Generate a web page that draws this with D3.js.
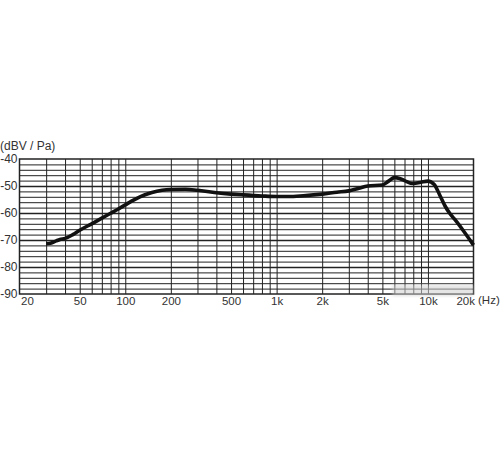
<!DOCTYPE html>
<html>
<head>
<meta charset="utf-8">
<script src="https://cdn.jsdelivr.net/npm/d3@7"></script>
<style>
  html, body { margin: 0; padding: 0; background: #fff; }
  svg { display: block; }
  text { font-family: "Liberation Sans", Arial, sans-serif; fill: #333; }
</style>
</head>
<body>
<svg id="chart" width="500" height="450"></svg>
<script>
// ---- data ----
const freqs = [30, 32, 35, 37, 40, 45, 50, 60, 70, 80, 90, 100, 110, 125, 150, 175, 200, 250, 300, 400, 500, 600, 800, 1000, 1200, 1500, 2000, 2500, 3000, 3500, 4000, 5000, 5500, 6000, 6500, 7000, 8000, 9000, 10000, 11000, 12000, 13000, 14000, 15000, 17000, 20000];
const levels = [-71.4, -71.2, -70.3, -69.8, -69.4, -68.0, -66.4, -64.0, -61.9, -60.1, -58.5, -57.0, -55.6, -54.0, -52.4, -51.6, -51.3, -51.2, -51.6, -52.5, -53.0, -53.3, -53.7, -53.9, -53.9, -53.6, -53.0, -52.3, -51.8, -50.8, -50.0, -49.6, -48.2, -46.9, -47.2, -48.0, -49.1, -48.6, -48.2, -49.4, -53.5, -57.5, -60.3, -62.3, -66.3, -71.9];
const xTickValues = [20, 50, 100, 200, 500, 1000, 2000, 5000, 10000, 20000];
const xTickLabels = ["20", "50", "100", "200", "500", "1k", "2k", "5k", "10k", "20k"];
const xGridValues = [30, 40, 50, 60, 70, 80, 90, 100, 200, 300, 400, 500, 600, 700, 800, 900, 1000, 2000, 3000, 4000, 5000, 6000, 7000, 8000, 9000, 10000];
const yTickValues = [-90, -80, -70, -60, -50, -40];
const yGridValues = d3.range(-88, -40, 2);
const yTitle = "(dBV / Pa)";
const xUnit = "(Hz)";

// ---- layout ----
const pLeft = 19.5, pRight = 473.5, pTop = 159, pBottom = 294;
const svg = d3.select("#chart");
const x = d3.scaleLog().domain([20, 20000]).range([pLeft, pRight]);
const y = d3.scaleLinear().domain([-90, -40]).range([pBottom, pTop]);

// horizontal grid
svg.append("g")
  .attr("transform", `translate(${pLeft},0)`)
  .call(d3.axisLeft(y).tickValues(yGridValues).tickSize(-(pRight - pLeft)).tickFormat(""))
  .call(g => g.select(".domain").remove())
  .call(g => g.selectAll("line")
    .attr("stroke", "#222")
    .attr("stroke-width", d => d % 10 === 0 ? 1.4 : 1));

// vertical grid
svg.append("g")
  .attr("transform", `translate(0,${pBottom})`)
  .call(d3.axisBottom(x).tickValues(xGridValues).tickSize(-(pBottom - pTop)).tickFormat(""))
  .call(g => g.select(".domain").remove())
  .call(g => g.selectAll("line").attr("stroke", "#222").attr("stroke-width", 1));

// frame
svg.append("rect")
  .attr("x", pLeft).attr("y", pTop)
  .attr("width", pRight - pLeft).attr("height", pBottom - pTop)
  .attr("fill", "none").attr("stroke", "#222").attr("stroke-width", 1.5);

// y tick labels
svg.append("g")
  .attr("transform", `translate(${pLeft},0)`)
  .call(d3.axisLeft(y).tickValues(yTickValues).tickSize(0).tickPadding(2).tickFormat(d => String(d)))
  .call(g => g.select(".domain").remove())
  .call(g => g.selectAll("text")
    .attr("font-size", 12)
    .attr("fill", "#333")
    .style("font-family", "'Liberation Sans', Arial, sans-serif"));

// x tick labels
svg.append("g")
  .attr("transform", `translate(0,${pBottom})`)
  .call(d3.axisBottom(x).tickValues(xTickValues).tickSize(0).tickPadding(3)
    .tickFormat((d, i) => xTickLabels[i]))
  .call(g => g.select(".domain").remove())
  .call(g => g.selectAll("text")
    .attr("font-size", 11.5)
    .attr("fill", d => d >= 10000 ? "#8a8a8a" : "#333")
    .style("font-family", "'Liberation Sans', Arial, sans-serif")
    .attr("text-anchor", (d, i) => i === 0 ? "start" : (i === xTickValues.length - 1 ? "end" : "middle"))
    .attr("dx", (d, i) => i === 0 ? 1 : (i === xTickValues.length - 1 ? 1 : 0)));

// titles
svg.append("text").attr("x", 0).attr("y", 150)
  .attr("font-size", 12).text(yTitle);
svg.append("text").attr("x", 478).attr("y", 304)
  .attr("font-size", 11.5).text(xUnit);

// blurred watermark patch
const defs = svg.append("defs");
defs.append("filter").attr("id", "blur").append("feGaussianBlur").attr("stdDeviation", 1.4);
svg.append("rect")
  .attr("x", x(6000) - 2).attr("y", y(-86.5))
  .attr("width", x(20000) - x(6000) + 2).attr("height", y(-90.8) - y(-86.5))
  .attr("fill", "#d0d0d0").attr("opacity", 0.55)
  .attr("filter", "url(#blur)");

// response curve
const pts = freqs.map((f, i) => [f, levels[i]]);
svg.append("path")
  .datum(pts)
  .attr("fill", "none")
  .attr("stroke", "#111")
  .attr("stroke-width", 3.6)
  .attr("stroke-linejoin", "round")
  .attr("stroke-linecap", "butt")
  .attr("d", d3.line().x(d => x(d[0])).y(d => y(d[1])).curve(d3.curveMonotoneX));
</script>
</body>
</html>
